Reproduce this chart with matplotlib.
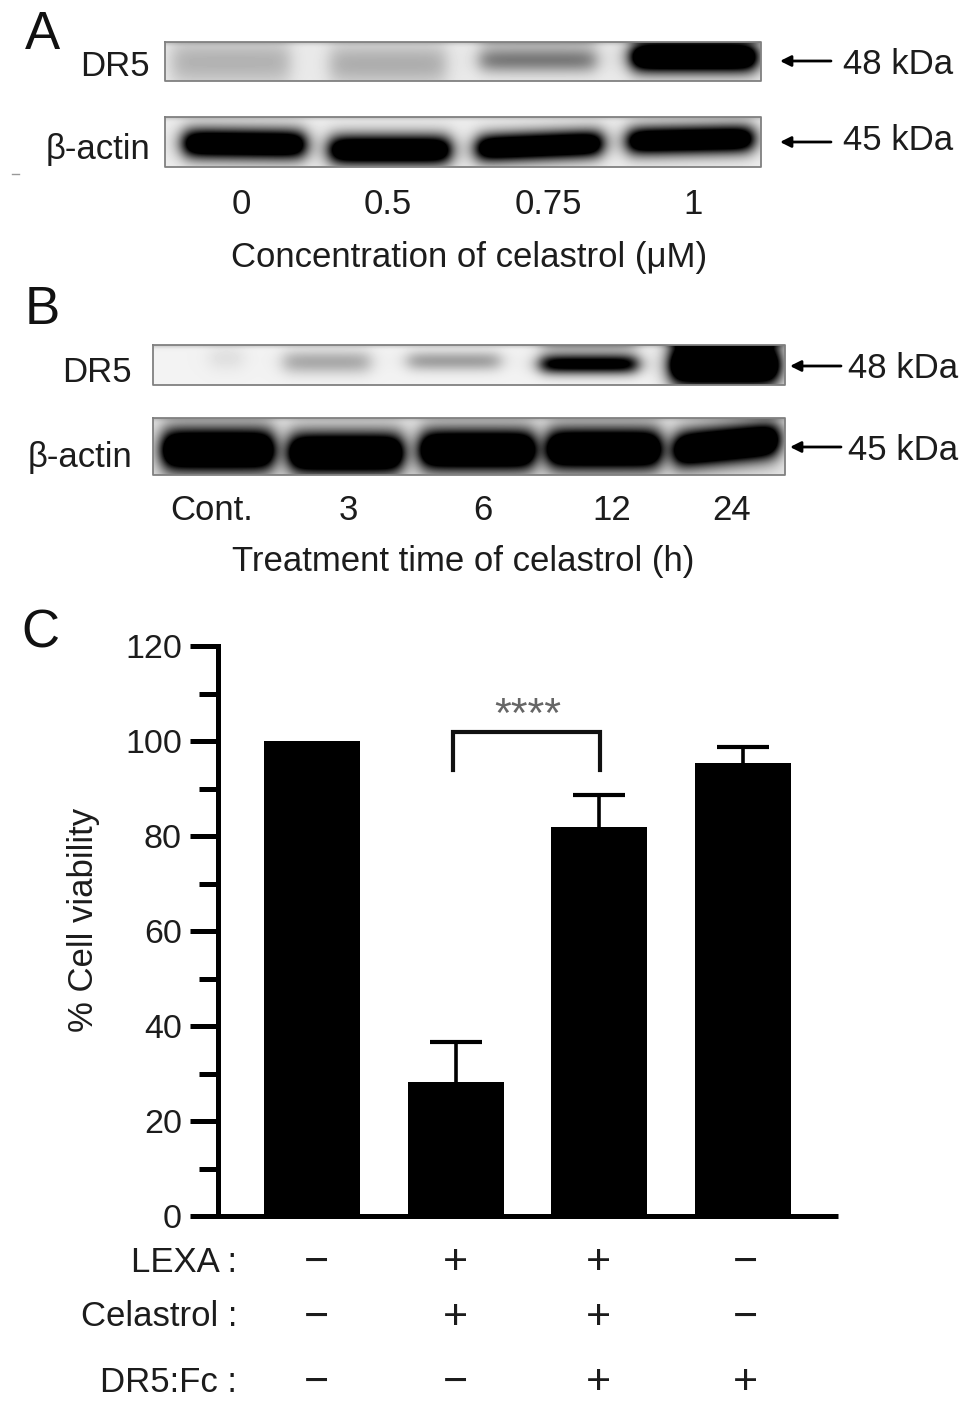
import matplotlib
matplotlib.use('Agg')
import matplotlib.pyplot as plt
import numpy as np

plt.rcParams['font.family'] = ['Liberation Sans', 'DejaVu Sans']

W, H = 969, 1402

# bar chart data
viability = [100, 28.2, 82, 95.4]
errors = [0, 8.4, 6.6, 3.3]
y_ticks = [0, 20, 40, 60, 80, 100, 120]
y_minor = [10, 30, 50, 70, 90, 110]

# treatment table
row_names = ['LEXA :', 'Celastrol :', 'DR5:Fc :']
lexa = ['−', '+', '+', '−']
celastrol = ['−', '+', '+', '−']
dr5fc = ['−', '−', '+', '+']

# blot labels
conc_labels = ['0', '0.5', '0.75', '1']
time_labels = ['Cont.', '3', '6', '12', '24']

# lanes of each blot: left, right, centre y, half height, darkness, tilt, top smear
a_dr5 = [(172, 290, 62, 24, 0.24, 0, 0), (330, 446, 64, 22, 0.26, 0, 0),
         (480, 596, 60, 13, 0.48, 0, 0.12), (632, 756, 57, 15, 1.8, 0, 0)]
a_actin = [(184, 305, 144, 15, 1.6, 0.01, 0), (330, 450, 150, 15, 1.6, 0, 0),
           (477, 602, 146, 14, 1.6, -0.04, 0), (628, 753, 140, 14, 1.6, -0.02, 0)]
b_dr5 = [(210, 243, 358, 13, 0.08, 0, 0), (284, 370, 362, 12, 0.3, 0, 0),
         (408, 500, 361, 10, 0.34, 0, 0), (541, 637, 364, 10, 1.2, 0, 0.25),
         (671, 778, 365, 20, 2.0, 0, 0.4)]
b_actin = [(163, 273, 450, 21, 1.9, 0, 0), (290, 402, 453, 20, 1.9, 0, 0),
           (421, 534, 450, 20, 1.9, 0, 0), (548, 660, 449, 20, 1.9, 0, 0),
           (675, 778, 445, 18, 1.9, -0.1, 0)]


def draw_blot(ax, x0, x1, y0, y1, bg, lanes):
    xx, yy = np.meshgrid(np.arange(x0, x1) + 0.5, np.arange(y0, y1) + 0.5)
    dark = np.zeros_like(xx)
    for left, right, yc, hh, d, tilt, smear in lanes:
        across = 0.5 * (np.tanh((xx - left) / 10) - np.tanh((xx - right) / 10))
        yrel = yy - yc - tilt * (xx - (left + right) / 2)
        dark += d * across * np.exp(-(yrel / hh) ** 2)
        dark += smear * across * np.exp(-((yy - y0) / 8) ** 2)
    dark += 0.15 * np.exp(-((yy - y0) / 3) ** 2)
    img = bg * (1 - np.clip(dark, 0, 1))
    ax.imshow(img, cmap='gray', vmin=0, vmax=1, extent=(x0, x1, y1, y0),
              aspect='auto', interpolation='bilinear')
    ax.plot([x0, x1, x1, x0, x0], [y0, y0, y1, y1, y0], color='#808080', lw=1.3)


fig = plt.figure(figsize=(W / 100, H / 100), dpi=100)
page = fig.add_axes([0, 0, 1, 1])
page.axis('off')

draw_blot(page, 165, 761, 42, 81, 0.92, a_dr5)
draw_blot(page, 165, 761, 117, 167, 0.93, a_actin)
draw_blot(page, 153, 785, 345, 385, 0.95, b_dr5)
draw_blot(page, 153, 785, 418, 475, 0.90, b_actin)
page.set_xlim(0, W)
page.set_ylim(H, 0)

fs = 25
txt = '#1c1c1c'
for s, x, y in [('A', 42, 35), ('B', 42, 310), ('C', 40, 634)]:
    page.text(x, y, s, fontsize=38, ha='center', va='center', color='#111111')

for s, x, y in [('DR5', 150, 67), ('β-actin', 150, 149), ('DR5', 132, 373), ('β-actin', 132, 458)]:
    page.text(x, y, s, fontsize=fs, ha='right', va='center', color=txt)

for s, x, y, ax0, ax1, ay in [('48 kDa', 843, 65, 831, 780, 61), ('45 kDa', 843, 141, 831, 780, 142),
                              ('48 kDa', 848, 368, 841, 790, 366), ('45 kDa', 848, 450, 841, 790, 447)]:
    page.text(x, y, s, fontsize=fs, ha='left', va='center', color=txt)
    page.annotate('', xy=(ax1, ay), xytext=(ax0, ay),
                  arrowprops=dict(arrowstyle='-|>', color='black', lw=2, mutation_scale=16,
                                  shrinkA=0, shrinkB=0))

for s, x in zip(conc_labels, [241, 388, 548, 693]):
    page.text(x, 204, s, fontsize=fs, ha='center', va='center', color=txt)
for s, x in zip(time_labels, [212, 348, 483, 612, 732]):
    page.text(x, 510, s, fontsize=fs, ha='center', va='center', color=txt)
page.text(469, 257, 'Concentration of celastrol (μM)', fontsize=fs, ha='center', va='center', color=txt)
page.text(463, 562, 'Treatment time of celastrol (h)', fontsize=fs, ha='center', va='center', color=txt)
page.plot([12, 19], [174, 174], color='#999999', lw=1)

# panel C
left, right, top, bottom = 218, 838, 646, 1216
ax = fig.add_axes([left / W, 1 - bottom / H, (right - left) / W, (bottom - top) / H])
ax.patch.set_alpha(0)
pos = np.arange(len(viability))
ax.bar(pos, viability, width=0.668, color='black')
_, caps, _ = ax.errorbar(pos[1:], viability[1:], yerr=[np.zeros(3), errors[1:]], fmt='none',
                         ecolor='black', elinewidth=2.6, capsize=18.5, capthick=3)
caps[0].set_visible(False)
ax.set_xlim(-0.654, 3.661)
ax.set_ylim(0, 120)
ax.set_xticks([])
ax.set_yticks(y_ticks)
ax.set_yticks(y_minor, minor=True)
ax.tick_params(axis='y', which='major', length=20, width=3.6, labelsize=24.5, pad=6, labelcolor=txt)
ax.tick_params(axis='y', which='minor', length=13.5, width=3.6)
for side in ['top', 'right']:
    ax.spines[side].set_visible(False)
for side in ['left', 'bottom']:
    ax.spines[side].set_linewidth(3.6)
ax.spines['bottom'].set_capstyle('butt')
ax.set_ylabel('% Cell viability', fontsize=fs, color=txt)
ax.yaxis.set_label_coords(-0.19, 0.52)

# significance bracket
ax.plot([0.98, 0.98, 2.005, 2.005], [93.9, 101.8, 101.8, 93.9], color='#111111', lw=3,
        solid_joinstyle='miter', clip_on=False)
ax.text(1.5, 105.2, '****', fontsize=31, ha='center', va='center', color='#666666')

# treatment rows
for name, signs, y in zip(row_names, [lexa, celastrol, dr5fc], [1260, 1315, 1380]):
    page.text(237, y + 2, name, fontsize=fs, ha='right', va='center', color=txt)
    for sign, x in zip(signs, [316, 455, 598, 745]):
        page.text(x, y + 3, sign, fontsize=31, ha='center', va='center', color=txt)

fig.savefig('out.png', dpi=100)
